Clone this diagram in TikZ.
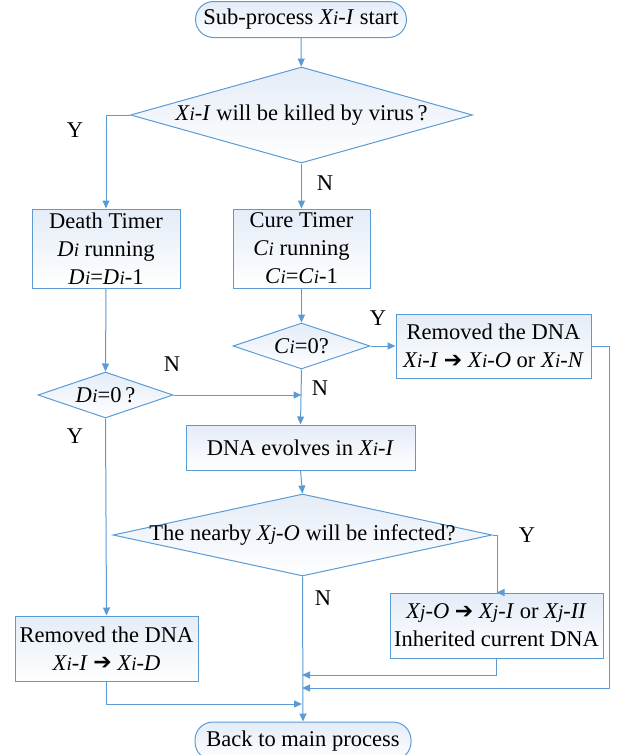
\documentclass[tikz,border=0pt]{standalone}
\usepackage{fontspec}
\setmainfont{Liberation Serif}
\newfontfamily\symfont{DejaVu Sans}
\usetikzlibrary{shapes.geometric,arrows.meta}
\definecolor{lnblue}{RGB}{91,155,213}
\definecolor{fillblue}{RGB}{228,236,247}
\newcommand{\vx}[2]{\textit{#1\kern0.3pt{\fontsize{19}{19}\selectfont #2}}}
\newcommand{\xarr}{\raisebox{0.5pt}{\symfont\fontsize{22}{22}\selectfont ➔}}

\begin{document}
\begin{tikzpicture}[x=1pt,y=-1pt,
		every node/.style={font=\fontsize{22.5}{28}\selectfont},
		line/.style={draw=lnblue,line width=1pt},
		arr/.style={line,-{Triangle[length=8pt,width=7pt]}},
		box/.style={line,rectangle,top color=fillblue,bottom color=white,inner sep=0pt,align=center},
		term/.style={box,rounded corners=18pt},
		dia/.style={line,diamond,top color=fillblue,bottom color=white,inner sep=0pt}]
		\useasboundingbox (0,0) rectangle (618,755);
		\node[term,minimum width=211pt,minimum height=36pt] (start) at (301,19.5) {Sub-process \vx{X}{i}-\textit{I} start};
		\node[dia,minimum width=342pt,minimum height=96pt,label=center:{\vx{X}{i}-\textit{I} will be killed by virus\,?}] (killed) at (301.5,115) {};
		\node[box,minimum width=148pt,minimum height=79pt] (death) at (106,248.5) {Death Timer\\ \vx{D}{i} running\\ \vx{D}{i}=\vx{D}{i}-1};
		\node[box,minimum width=137pt,minimum height=79pt] (cure) at (301.5,248.5) {Cure Timer\\ \vx{C}{i} running\\ \vx{C}{i}=\vx{C}{i}-1};
		\node[dia,minimum width=135pt,minimum height=46pt,label=center:{\vx{D}{i}=0\,?}] (dzero) at (105.5,395) {};
		\node[dia,minimum width=137pt,minimum height=46pt,label=center:{\vx{C}{i}=0?}] (czero) at (301.5,346) {};
		\node[box,minimum width=195pt,minimum height=64pt] (cured) at (493.5,346) {Removed the DNA\\ \vx{X}{i}-\textit{I} \xarr\ \vx{X}{i}-\textit{O} or \vx{X}{i}-\textit{N}};
		\node[box,minimum width=229pt,minimum height=45pt] (evolve) at (300.5,447.5) {DNA evolves in \vx{X}{i}-\textit{I}};
		\node[dia,minimum width=379pt,minimum height=82pt,label=center:{The nearby \vx{X}{j}-\textit{O} will be infected?}] (infect) at (302.5,535) {};
		\node[box,minimum width=213pt,minimum height=65pt] (inherit) at (496.5,625.5) {\vx{X}{j}-\textit{O} \xarr\ \vx{X}{j}-\textit{I} or \vx{X}{j}-\textit{II}\\ Inherited current DNA};
		\node[box,minimum width=183pt,minimum height=65pt] (dead) at (106.5,648.5) {Removed the DNA\\ \vx{X}{i}-\textit{I} \xarr\ \vx{X}{i}-\textit{D}};
		\node[term,minimum width=216pt,minimum height=38pt] (back) at (303,741) {Back to main process};
		\node (ykilled) at (75,130) {Y};
		\node (nkilled) at (325,183) {N};
		\node (ndzero) at (172,364) {N};
		\node (ydzero) at (75,436) {Y};
		\node (yczero) at (378,318) {Y};
		\node (nczero) at (320,388) {N};
		\node (yinfect) at (527,535) {Y};
		\node (ninfect) at (323,598) {N};
		\coordinate (jinherit) at (302,675);
		\coordinate (jcured) at (302,688);
		\coordinate (jdead) at (302,704);
		\draw[arr] (start) -- (killed);
		\draw[arr] (killed.west) -| (death.north);
		\draw[arr] (killed.south) -- (cure.north);
		\draw[arr] (death.south) -- (dzero.north);
		\draw[arr] (cure.south) -- (czero.north);
		\draw[arr] (czero.east) -- (cured.west);
		\draw[arr] (dzero.east) -- (dzero.east -| czero.south);
		\draw[arr] (czero.south) -- (evolve.north);
		\draw[arr] (evolve.south) -- (infect.north);
		\draw[arr] (infect.east) -- ++(5,0) |- (inherit.north);
		\draw[arr] (infect.south) -- (back.north);
		\draw[arr] (inherit.south) |- (jinherit);
		\draw[arr] (cured.east) -- ++(18,0) |- (jcured);
		\draw[arr] (dzero.south) -- (dead.north);
		\draw[arr] (dead.south) |- (jdead);
	\end{tikzpicture}
\end{document}
